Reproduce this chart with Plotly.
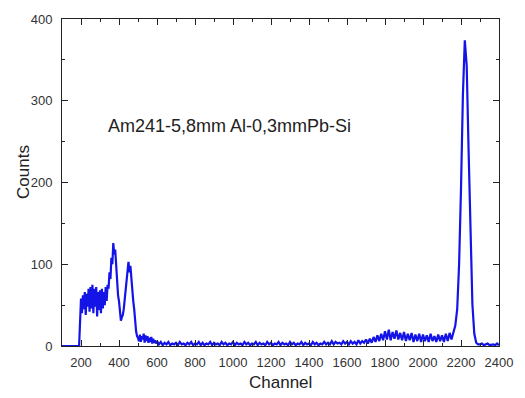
import plotly.graph_objects as go

# Spectrum, in segments (start channel, step, counts)
seg_a = (100, 10, [0, 0, 0, 0, 0, 0, 0, 0, 0, 0])
seg_b = (200, 5, [58, 40, 62, 45, 66, 38, 64, 48, 70, 42,
                  72, 46, 75, 40, 70, 48, 72, 36, 66, 44,
                  68, 40, 70, 46, 66, 50, 72, 55, 75, 70,
                  90, 82, 108, 100, 126, 112, 118, 95, 88, 62,
                  55, 40, 31, 35, 38, 45, 55, 65, 82, 92,
                  103, 90, 98, 80, 75, 55, 45, 25, 18, 12])
seg_c = (500, 5, [10, 6, 14, 5, 12, 8, 15, 4, 13, 6,
                  12, 4, 10, 5, 11, 3, 9, 4, 7, 3])
seg_d = (600, 10, [6, 2, 5, 1, 4, 2, 5, 1, 3, 2,
                   4, 1, 5, 2, 3, 1, 4, 2, 5, 1,
                   3, 2, 5, 1, 4, 1, 3, 2, 5, 1,
                   4, 2, 3, 1, 5, 2, 4, 1, 3, 2,
                   5, 1, 4, 2, 3, 1, 5, 2, 4, 1,
                   3, 2, 5, 1, 4, 2, 3, 1, 5, 2,
                   4, 1, 3, 2, 5, 1, 4, 2, 3, 1,
                   5, 2, 4, 1, 3, 2, 5, 1, 4, 2,
                   3, 1, 5, 2, 4, 1, 3, 2, 5, 2,
                   4, 2, 6, 2, 5, 3, 4, 2, 6, 3,
                   5, 2, 6, 3, 5, 2, 7, 3, 6, 4])
seg_e = (1700, 10, [8, 3, 9, 4, 11, 5, 13, 6, 15, 7,
                    18, 8, 20, 7, 17, 9, 19, 8, 16, 7,
                    17, 6, 15, 7, 16, 5, 14, 6, 15, 5,
                    14, 6, 13, 5, 15, 6, 12, 5, 14, 6,
                    13, 5, 15, 6, 16, 8])
seg_f = (2160, 10, [18, 25, 45, 100, 192, 307, 374, 343, 239, 127, 51, 15, 4, 2])
seg_g = (2300, 10, [2, 3, 1, 2, 3, 1, 2, 2, 1, 3, 1])

segments = [seg_a, seg_b, seg_c, seg_d, seg_e, seg_f, seg_g]

channels, counts = [], []
for start, step, vals in segments:
    for i, v in enumerate(vals):
        channels.append(start + step * i)
        counts.append(v)

x_ticks = [200, 400, 600, 800, 1000, 1200, 1400, 1600, 1800, 2000, 2200, 2400]
y_ticks = [0, 100, 200, 300, 400]
label_text = "Am241-5,8mm Al-0,3mmPb-Si"

fig = go.Figure()
fig.add_trace(go.Scatter(x=channels, y=counts, mode="lines",
                         line=dict(color="#1414E6", width=2.2)))

axis_common = dict(showline=True, linecolor="#222", linewidth=1, mirror="allticks",
                   ticks="inside", ticklen=6, tickcolor="#222", showgrid=False,
                   zeroline=False, tickfont=dict(family="Liberation Sans", size=13, color="#333"))

fig.update_xaxes(range=[100, 2400], tickvals=x_ticks, ticklabelstandoff=4,
                 minor=dict(ticks="inside", ticklen=3, dtick=100, tick0=100, tickcolor="#222"),
                 **axis_common)
fig.update_yaxes(range=[0, 400], tickvals=y_ticks, ticklabelstandoff=6,
                 minor=dict(ticks="inside", ticklen=3, dtick=50, tickcolor="#222"),
                 **axis_common)

fig.add_annotation(x=329, y=269, xref="x", yref="y", text=label_text, showarrow=False,
                   xanchor="left", yanchor="middle",
                   font=dict(family="Liberation Sans", size=18, color="#222"))
fig.add_annotation(x=0.5, y=-0.113, xref="paper", yref="paper", text="Channel", showarrow=False,
                   xanchor="center", yanchor="middle",
                   font=dict(family="Liberation Sans", size=17, color="#222"))
fig.add_annotation(x=-0.088, y=0.531, xref="paper", yref="paper", text="Counts", showarrow=False,
                   textangle=-90, xanchor="center", yanchor="middle",
                   font=dict(family="Liberation Sans", size=17, color="#222"))

fig.update_layout(width=525, height=398, margin=dict(l=62, r=18, t=15, b=52),
                  paper_bgcolor="white", plot_bgcolor="white", showlegend=False)

fig.write_html("out.html")
